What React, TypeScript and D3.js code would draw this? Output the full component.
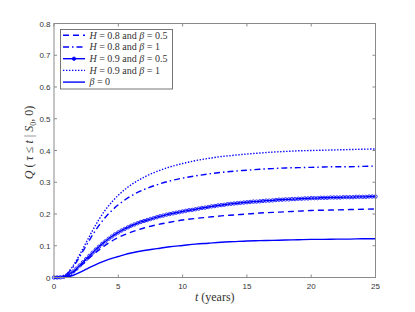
import { useEffect, useRef } from 'react'
import * as d3 from 'd3'

// time grid (years) shared by the line-only series
const TIME = [0, 0.5, 1, 1.5, 2, 2.5, 3, 3.5, 4, 4.5, 5, 5.5, 6,
  7, 8, 9, 10, 11, 12, 13, 14, 15, 16, 17, 18, 19, 20, 21, 22, 23, 24, 25]

// H = 0.8, beta = 0.5 (dashed)
const Q_H08_B05 = [0, 0.0005, 0.005, 0.017, 0.034, 0.052, 0.07, 0.087, 0.102, 0.115, 0.126, 0.135, 0.143,
  0.156, 0.166, 0.174, 0.181, 0.186, 0.19, 0.194, 0.197, 0.2, 0.203, 0.205, 0.207, 0.209, 0.211, 0.212, 0.213, 0.214, 0.215, 0.216]

// H = 0.8, beta = 1 (dash-dot)
const Q_H08_B1 = [0, 0.001, 0.011, 0.034, 0.066, 0.1, 0.134, 0.164, 0.19, 0.211, 0.229, 0.244, 0.257,
  0.277, 0.292, 0.304, 0.313, 0.32, 0.326, 0.331, 0.335, 0.338, 0.341, 0.343, 0.345, 0.346, 0.347, 0.348, 0.349, 0.349, 0.35, 0.351]

// H = 0.9, beta = 1 (dotted)
const Q_H09_B1 = [0, 0.001, 0.012, 0.038, 0.072, 0.11, 0.148, 0.183, 0.213, 0.238, 0.259, 0.277, 0.292,
  0.316, 0.334, 0.348, 0.359, 0.368, 0.375, 0.381, 0.385, 0.389, 0.392, 0.395, 0.397, 0.399, 0.4, 0.401, 0.402, 0.403, 0.404, 0.405]

// beta = 0 (solid)
const Q_B0 = [0, 0, 0.002, 0.007, 0.016, 0.026, 0.036, 0.045, 0.053, 0.06, 0.066, 0.072, 0.077,
  0.085, 0.091, 0.097, 0.101, 0.105, 0.108, 0.111, 0.113, 0.115, 0.116, 0.117, 0.118, 0.119, 0.12, 0.12, 0.121, 0.121, 0.122, 0.122]

// H = 0.9, beta = 0.5 (solid with markers), sampled every quarter year
const TIME_FINE = d3.range(0, 101).map(i => i * 0.25)
const Q_H09_B05 = [
  0, 0.0001, 0.0005, 0.002, 0.006, 0.012, 0.019, 0.028, 0.038, 0.048, 0.058, 0.068, 0.078,
  0.088, 0.097, 0.106, 0.114, 0.122, 0.129, 0.136, 0.142, 0.148, 0.153, 0.158, 0.163,
  0.167, 0.171, 0.175, 0.178,
  0.181, 0.184, 0.187, 0.19,
  0.193, 0.195, 0.198, 0.2,
  0.202, 0.204, 0.206, 0.208,
  0.21, 0.212, 0.213, 0.215,
  0.217, 0.219, 0.22, 0.222,
  0.224, 0.225, 0.227, 0.228,
  0.229, 0.231, 0.232, 0.233,
  0.234, 0.235, 0.236, 0.237,
  0.238, 0.239, 0.239, 0.24,
  0.241, 0.242, 0.242, 0.243,
  0.244, 0.245, 0.245, 0.246,
  0.246, 0.247, 0.247, 0.248,
  0.248, 0.249, 0.249, 0.25,
  0.25, 0.25, 0.251, 0.251,
  0.251, 0.252, 0.252, 0.252,
  0.252, 0.253, 0.253, 0.253,
  0.253, 0.254, 0.254, 0.254,
  0.254, 0.255, 0.255, 0.255,
]

const X_TICKS = [0, 5, 10, 15, 20, 25]
const Y_TICKS = [0, 0.1, 0.2, 0.3, 0.4, 0.5, 0.6, 0.7, 0.8]

const BLUE = '#0000ff'

type Style = { dash: string | null, markers: boolean }

const SERIES: { key: string, h: string | null, b: string, t: number[], q: number[], style: Style }[] = [
  { key: 'h08b05', h: '0.8', b: '0.5', t: TIME, q: Q_H08_B05, style: { dash: '6,4', markers: false } },
  { key: 'h08b1', h: '0.8', b: '1', t: TIME, q: Q_H08_B1, style: { dash: '6,3,1.5,3', markers: false } },
  { key: 'h09b05', h: '0.9', b: '0.5', t: TIME_FINE, q: Q_H09_B05, style: { dash: null, markers: true } },
  { key: 'h09b1', h: '0.9', b: '1', t: TIME, q: Q_H09_B1, style: { dash: '1.4,1.6', markers: false } },
  { key: 'b0', h: null, b: '0', t: TIME, q: Q_B0, style: { dash: null, markers: false } },
]

export default function App() {
  const ref = useRef<SVGSVGElement>(null)

  useEffect(() => {
    if (!ref.current) return
    const svg = d3.select(ref.current)
    svg.selectAll('*').remove()

    const width = 415
    const height = 312
    const x0 = 54, x1 = 375.5, y0 = 277.5, y1 = 23.5

    const x = d3.scaleLinear().domain([0, 25]).range([x0, x1])
    const y = d3.scaleLinear().domain([0, 0.8]).range([y0, y1])

    svg.append('rect').attr('width', width).attr('height', height).attr('fill', '#fff')

    const axisColor = '#8a8a8a'
    const textColor = '#333'
    const sans = 'Liberation Sans, Arial, sans-serif'
    const serif = 'Liberation Serif, Times New Roman, serif'

    // Curves
    SERIES.forEach(s => {
      const pts = s.t.map((t, i) => [x(t), y(s.q[i])] as [number, number])
      svg.append('path')
        .attr('d', d3.line().curve(d3.curveMonotoneX)(pts))
        .attr('fill', 'none')
        .attr('stroke', BLUE)
        .attr('stroke-width', 1.4)
        .attr('stroke-dasharray', s.style.dash)
      if (s.style.markers) {
        svg.append('g').selectAll('circle')
          .data(pts)
          .join('circle')
          .attr('cx', d => d[0]).attr('cy', d => d[1])
          .attr('r', 1.7)
          .attr('fill', 'none')
          .attr('stroke', BLUE)
          .attr('stroke-width', 0.8)
      }
    })

    // Box + ticks
    svg.append('rect')
      .attr('x', x0).attr('y', y1)
      .attr('width', x1 - x0).attr('height', y0 - y1)
      .attr('fill', 'none').attr('stroke', axisColor).attr('stroke-width', 1)

    const tl = 3
    X_TICKS.forEach(t => {
      svg.append('line').attr('x1', x(t)).attr('x2', x(t)).attr('y1', y0).attr('y2', y0 - tl)
        .attr('stroke', axisColor)
      svg.append('line').attr('x1', x(t)).attr('x2', x(t)).attr('y1', y1).attr('y2', y1 + tl)
        .attr('stroke', axisColor)
      svg.append('text')
        .attr('x', x(t)).attr('y', y0 + 11.5)
        .attr('text-anchor', 'middle')
        .attr('font-family', sans).attr('font-size', '8px').attr('fill', textColor)
        .text(`${t}`)
    })
    Y_TICKS.forEach(v => {
      svg.append('line').attr('x1', x0).attr('x2', x0 + tl).attr('y1', y(v)).attr('y2', y(v))
        .attr('stroke', axisColor)
      svg.append('line').attr('x1', x1).attr('x2', x1 - tl).attr('y1', y(v)).attr('y2', y(v))
        .attr('stroke', axisColor)
      svg.append('text')
        .attr('x', x0 - 3.5).attr('y', y(v) + 3)
        .attr('text-anchor', 'end')
        .attr('font-family', sans).attr('font-size', '8px').attr('fill', textColor)
        .text(`${v}`)
    })

    // Axis labels
    const xl = svg.append('text')
      .attr('x', (x0 + x1) / 2).attr('y', y0 + 23)
      .attr('text-anchor', 'middle')
      .attr('font-family', serif).attr('font-size', '12px').attr('fill', textColor)
    xl.append('tspan').attr('font-style', 'italic').text('t')
    xl.append('tspan').text(' (years)')

    const yl = svg.append('text')
      .attr('transform', `translate(33,${(y0 + y1) / 2 - 8}) rotate(-90)`)
      .attr('text-anchor', 'middle')
      .attr('font-family', serif).attr('font-size', '12px').attr('fill', textColor)
    yl.append('tspan').attr('font-style', 'italic').text('Q')
    yl.append('tspan').text(' ( ')
    yl.append('tspan').attr('font-style', 'italic').text('τ')
    yl.append('tspan').text(' ≤ ')
    yl.append('tspan').attr('font-style', 'italic').text('t')
    yl.append('tspan').text(' | ')
    yl.append('tspan').attr('font-style', 'italic').text('S')
    yl.append('tspan').attr('font-size', '8px').attr('dy', 2.5).text('0')
    yl.append('tspan').attr('dy', -2.5).text(', 0)')

    // Legend
    const lg = svg.append('g')
    lg.append('rect')
      .attr('x', 60.5).attr('y', 29.5).attr('width', 112).attr('height', 59.5)
      .attr('fill', '#fff').attr('stroke', '#555').attr('stroke-width', 0.8)

    SERIES.forEach((s, i) => {
      const ly = 35.3 + i * 11.7
      lg.append('line')
        .attr('x1', 63).attr('x2', 85).attr('y1', ly).attr('y2', ly)
        .attr('stroke', BLUE).attr('stroke-width', 1.4)
        .attr('stroke-dasharray', s.style.dash)
      if (s.style.markers) {
        lg.append('circle').attr('cx', 74).attr('cy', ly).attr('r', 1.7)
          .attr('fill', BLUE).attr('stroke', BLUE).attr('stroke-width', 0.8)
      }
      const t = lg.append('text')
        .attr('x', 89.5).attr('y', ly + 3.3)
        .attr('font-family', serif).attr('font-size', '10px').attr('fill', textColor)
      if (s.h) {
        t.append('tspan').attr('font-style', 'italic').text('H')
        t.append('tspan').text(` = ${s.h} and `)
      }
      t.append('tspan').attr('font-style', 'italic').text('β')
      t.append('tspan').text(` = ${s.b}`)
    })
  }, [])

  return (
    <svg ref={ref} width={415} height={312}
      style={{ position: 'absolute', left: 0, top: 0, display: 'block' }} />
  )
}
